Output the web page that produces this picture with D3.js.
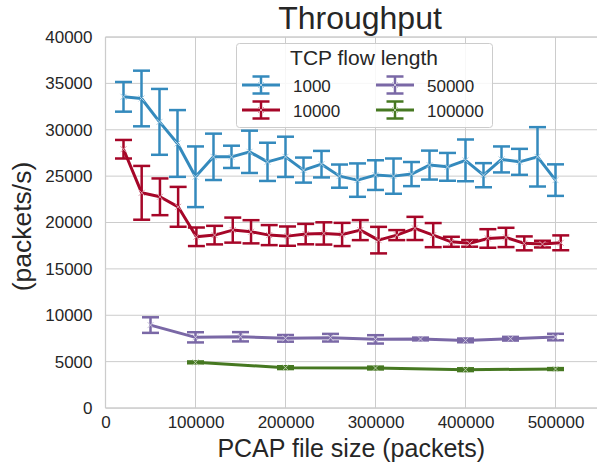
<!DOCTYPE html>
<html lang="en">
<head>
  <meta charset="UTF-8">
  <title>Throughput</title>
  <script src="https://cdn.jsdelivr.net/npm/d3@7"></script>
  <style>
    body { margin: 0; background: #fff; }
    svg { font-family: "Liberation Sans", Arial, sans-serif; }
    .axis text { font-size: 17px; fill: #262626; }
    .axis path { display: none; }
    .grid line { stroke: #cccccc; stroke-width: 1; }
  </style>
</head>
<body>
  <script>
// ---- data ----
var flowLengths = ["1000", "10000", "50000", "100000"];
var colors = ["#348ABD", "#A60628", "#7A68A6", "#467821"];

var x1000 = [20000, 40000, 60000, 80000, 100000, 120000, 140000, 160000, 180000, 200000,
  220000, 240000, 260000, 280000, 300000, 320000, 340000, 360000, 380000, 400000,
  420000, 440000, 460000, 480000, 500000];
var y1000 = [33550, 33370, 30850, 28520, 24930, 27080, 27080, 27620, 26540, 27080,
  25650, 26290, 25000, 24570, 25110, 25000, 25220, 26190, 26000, 26700,
  25100, 26800, 26540, 27080, 24570];
var e1000 = [1600, 3000, 3550, 3600, 3270, 2500, 1200, 2280, 2060, 2170,
  1350, 1430, 1250, 1800, 1600, 1900, 1300, 1560, 1500, 2250,
  1300, 1400, 1400, 3200, 1700];

var x10000 = [20000, 40200, 60500, 80700, 101000, 121200, 141400, 161700, 181900, 202200,
  222400, 242600, 262900, 283100, 303400, 323600, 343800, 364100, 384300, 404600,
  424800, 445000, 465300, 485500, 505800];
var y10000 = [27900, 23200, 22770, 21690, 18460, 18640, 19180, 19000, 18640, 18530,
  18750, 18820, 18710, 19180, 18100, 18640, 19360, 18640, 17920, 17750,
  18280, 18390, 17750, 17670, 17810];
var e10000 = [1000, 2900, 1980, 2150, 1000, 1000, 1350, 1250, 1080, 1040,
  1100, 1200, 1250, 1080, 1430, 540, 1250, 1300, 540, 360,
  1000, 1040, 750, 360, 800];

var x50000 = [50000, 100000, 150000, 200000, 250000, 300000, 350000, 400000, 450000, 500000];
var y50000 = [8940, 7620, 7680, 7510, 7580, 7400, 7440, 7290, 7470, 7650];
var e50000 = [840, 550, 500, 360, 410, 450, 150, 200, 200, 350];

var x100000 = [100000, 200000, 300000, 400000, 500000];
var y100000 = [4920, 4350, 4310, 4130, 4200];
var e100000 = [100, 150, 150, 150, 100];

var xTicks = [0, 100000, 200000, 300000, 400000, 500000];
var yTicks = [0, 5000, 10000, 15000, 20000, 25000, 30000, 35000, 40000];

var seriesX = [x1000, x10000, x50000, x100000];
var seriesY = [y1000, y10000, y50000, y100000];
var seriesE = [e1000, e10000, e50000, e100000];

var series = flowLengths.map(function(name, s) {
  return {
    name: name,
    color: colors[s],
    points: seriesX[s].map(function(xv, i) {
      return { x: xv, y: seriesY[s][i], e: seriesE[s][i] };
    })
  };
});

// ---- layout ----
var w = 597, h = 470;
var mLeft = 105.5, mRight = 597, mTop = 37, mBottom = 408;

var svg = d3.select("body").append("svg")
  .attr("width", w)
  .attr("height", h);

var xScale = d3.scaleLinear().domain([0, 546100]).range([mLeft, mRight]);
var yScale = d3.scaleLinear().domain([0, 40000]).range([mBottom, mTop]);

// grid
var grid = svg.append("g").attr("class", "grid");
grid.selectAll(".gx").data(xTicks).enter().append("line")
  .attr("x1", d => xScale(d)).attr("x2", d => xScale(d))
  .attr("y1", mTop).attr("y2", mBottom);
grid.selectAll(".gy").data(yTicks).enter().append("line")
  .attr("x1", mLeft).attr("x2", mRight)
  .attr("y1", d => yScale(d)).attr("y2", d => yScale(d));

// spines
svg.append("line").attr("x1", mLeft).attr("x2", mLeft).attr("y1", mTop).attr("y2", mBottom)
  .attr("stroke", "#cccccc").attr("stroke-width", 1.25);
svg.append("line").attr("x1", mLeft).attr("x2", mRight).attr("y1", mBottom).attr("y2", mBottom)
  .attr("stroke", "#cccccc").attr("stroke-width", 1.25);
svg.append("line").attr("x1", mLeft).attr("x2", mRight).attr("y1", mTop).attr("y2", mTop)
  .attr("stroke", "#cccccc").attr("stroke-width", 1.25);

// axes
svg.append("g").attr("class", "axis")
  .attr("transform", "translate(0," + mBottom + ")")
  .call(d3.axisBottom(xScale).tickValues(xTicks).tickSize(0).tickPadding(8).tickFormat(d3.format("d")));

svg.append("g").attr("class", "axis")
  .attr("transform", "translate(" + mLeft + ",0)")
  .call(d3.axisLeft(yScale).tickValues(yTicks).tickSize(0).tickPadding(13).tickFormat(d3.format("d")));

// axis labels + title
svg.append("text")
  .attr("x", (mLeft + mRight) / 2).attr("y", 457)
  .attr("text-anchor", "middle")
  .attr("font-size", 25).attr("fill", "#262626")
  .text("PCAP file size (packets)");

svg.append("text")
  .attr("transform", "translate(30.5,226.5) rotate(-90)")
  .attr("text-anchor", "middle")
  .attr("font-size", 26.5).attr("fill", "#262626")
  .text("(packets/s)");

svg.append("text")
  .attr("x", 360).attr("y", 29)
  .attr("text-anchor", "middle")
  .attr("font-size", 32).attr("fill", "#262626")
  .text("Throughput");

// ---- series ----
var capW = 8.5;
var line = d3.line().x(d => xScale(d.x)).y(d => yScale(d.y));

function xMark(g, cx, cy, color) {
  var r = 3;
  g.append("path")
    .attr("d", "M" + (cx - r) + "," + (cy - r) + "L" + (cx + r) + "," + (cy + r) +
               "M" + (cx - r) + "," + (cy + r) + "L" + (cx + r) + "," + (cy - r))
    .attr("stroke", d3.interpolateRgb(color, "#ffffff")(0.6))
    .attr("stroke-width", 1);
}

series.forEach(function(s) {
  var g = svg.append("g");
  g.append("path").datum(s.points)
    .attr("d", line)
    .attr("fill", "none")
    .attr("stroke", s.color)
    .attr("stroke-width", 3)
    .attr("stroke-linejoin", "round");

  var bars = g.selectAll(".bar").data(s.points).enter().append("g");
  bars.append("line")
    .attr("x1", d => xScale(d.x)).attr("x2", d => xScale(d.x))
    .attr("y1", d => yScale(d.y - d.e)).attr("y2", d => yScale(d.y + d.e))
    .attr("stroke", s.color).attr("stroke-width", 2.5);
  bars.append("line")
    .attr("x1", d => xScale(d.x) - capW).attr("x2", d => xScale(d.x) + capW)
    .attr("y1", d => yScale(d.y + d.e)).attr("y2", d => yScale(d.y + d.e))
    .attr("stroke", s.color).attr("stroke-width", 2.5);
  bars.append("line")
    .attr("x1", d => xScale(d.x) - capW).attr("x2", d => xScale(d.x) + capW)
    .attr("y1", d => yScale(d.y - d.e)).attr("y2", d => yScale(d.y - d.e))
    .attr("stroke", s.color).attr("stroke-width", 2.5);

  s.points.forEach(function(d) {
    xMark(g, xScale(d.x), yScale(d.y), s.color);
  });
});

// ---- legend ----
var legend = svg.append("g");
legend.append("rect")
  .attr("x", 236.5).attr("y", 43.5).attr("width", 256).attr("height", 84)
  .attr("rx", 3).attr("ry", 3)
  .attr("fill", "#ffffff").attr("fill-opacity", 0.85)
  .attr("stroke", "#cccccc").attr("stroke-width", 1);

legend.append("text")
  .attr("x", 364).attr("y", 65)
  .attr("text-anchor", "middle")
  .attr("font-size", 21).attr("fill", "#262626")
  .text("TCP flow length");

series.forEach(function(s, i) {
  var col = Math.floor(i / 2), row = i % 2;
  var x0 = 242 + col * 134, cy = 85 + row * 25;
  var cx = x0 + 19;
  var item = legend.append("g");
  item.append("line").attr("x1", x0).attr("x2", x0 + 38).attr("y1", cy).attr("y2", cy)
    .attr("stroke", s.color).attr("stroke-width", 3);
  item.append("line").attr("x1", cx).attr("x2", cx).attr("y1", cy - 8.5).attr("y2", cy + 8.5)
    .attr("stroke", s.color).attr("stroke-width", 2.5);
  item.append("line").attr("x1", cx - capW).attr("x2", cx + capW).attr("y1", cy - 8.5).attr("y2", cy - 8.5)
    .attr("stroke", s.color).attr("stroke-width", 2.5);
  item.append("line").attr("x1", cx - capW).attr("x2", cx + capW).attr("y1", cy + 8.5).attr("y2", cy + 8.5)
    .attr("stroke", s.color).attr("stroke-width", 2.5);
  xMark(item, cx, cy, s.color);
  item.append("text")
    .attr("x", x0 + 51).attr("y", cy + 6.5)
    .attr("font-size", 17).attr("fill", "#262626")
    .text(s.name);
});
  </script>
</body>
</html>
